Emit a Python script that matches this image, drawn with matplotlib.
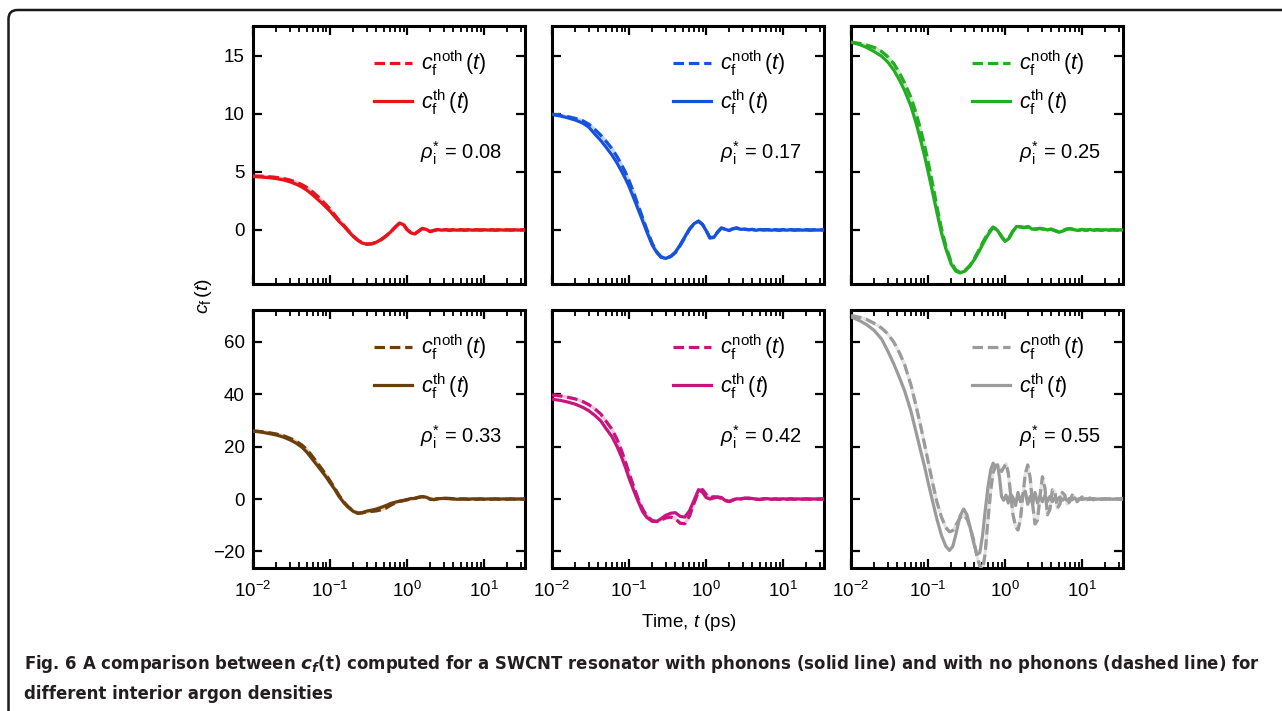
import matplotlib
matplotlib.use('Agg')
import matplotlib.pyplot as plt
from matplotlib.lines import Line2D
from matplotlib.patches import FancyBboxPatch
from matplotlib.ticker import LogLocator, NullFormatter

plt.rcParams['font.family'] = ['Liberation Sans', 'DejaVu Sans']
plt.rcParams['mathtext.fontset'] = 'custom'
plt.rcParams['mathtext.rm'] = 'Liberation Sans'
plt.rcParams['mathtext.it'] = 'Liberation Sans:italic'
plt.rcParams['mathtext.bf'] = 'Liberation Sans:bold'
plt.rcParams['mathtext.bfit'] = 'DejaVu Sans:italic:bold'

# ===== DATA =====
# time grid (ps) shared by the first five densities
T_GRID = [0.010, 0.013, 0.016, 0.020, 0.025, 0.030, 0.036, 0.043, 0.050, 0.060,
          0.070, 0.080, 0.090, 0.100, 0.115, 0.130, 0.150, 0.170, 0.200, 0.230,
          0.260, 0.300, 0.350, 0.400, 0.460, 0.530, 0.610, 0.700, 0.800, 0.900,
          1.00, 1.12, 1.26, 1.41, 1.58, 1.78, 2.00, 2.24, 2.51, 2.82,
          3.16, 3.55, 3.98, 4.47, 5.01, 5.62, 6.31, 7.08, 7.94, 8.91,
          10.0, 11.2, 12.6, 14.1, 15.8, 17.8, 20.0, 22.4, 25.1, 28.2,
          31.6, 34.0]

# rho = 0.08
red_th = [4.60, 4.55, 4.50, 4.42, 4.30, 4.15, 3.95, 3.70, 3.42, 3.00,
          2.60, 2.25, 1.92, 1.62, 1.15, 0.75, 0.35, -0.05, -0.55, -0.90,
          -1.12, -1.23, -1.18, -1.05, -0.82, -0.52, -0.18, 0.25, 0.60, 0.45,
          0.02, -0.25, -0.35, -0.12, 0.12, 0.05, -0.15, -0.05, 0.04, -0.02,
          0.03, -0.02, 0.01, -0.02, 0.02, -0.01, 0.02, -0.02, 0.01, -0.01,
          0.02, -0.01, 0.01, -0.02, 0.01, -0.01, 0.01, -0.01, 0.01, -0.01,
          0.01, 0.00]
red_noth = [4.65, 4.62, 4.58, 4.52, 4.42, 4.30, 4.12, 3.90, 3.65, 3.25,
            2.85, 2.48, 2.12, 1.80, 1.30, 0.85, 0.42, 0.00, -0.52, -0.88,
            -1.10, -1.22, -1.19, -1.07, -0.85, -0.55, -0.20, 0.22, 0.58, 0.48,
            0.05, -0.22, -0.33, -0.10, 0.14, 0.03, -0.13, -0.03, 0.03, -0.01,
            0.02, -0.03, 0.02, -0.01, 0.01, -0.02, 0.01, -0.01, 0.02, -0.01,
            0.01, -0.02, 0.01, -0.01, 0.01, -0.01, 0.01, -0.01, 0.01, -0.01,
            0.00, 0.00]

# rho = 0.17
blue_th = [9.95, 9.80, 9.65, 9.46, 9.20, 8.85, 8.25, 7.70, 7.15, 6.45,
           5.75, 5.05, 4.40, 3.75, 2.75, 1.85, 0.80, -0.15, -1.30, -1.95,
           -2.35, -2.45, -2.25, -1.90, -1.30, -0.60, 0.10, 0.55, 0.77, 0.45,
           -0.05, -0.70, -0.65, -0.20, 0.18, 0.05, -0.05, 0.12, 0.18, 0.05,
           0.08, 0.02, 0.05, -0.03, 0.04, 0.00, 0.03, -0.02, 0.02, -0.03,
           0.02, -0.02, 0.03, -0.01, 0.02, -0.02, 0.01, -0.02, 0.01, -0.01,
           0.01, 0.00]
blue_noth = [9.95, 9.85, 9.75, 9.60, 9.40, 9.10, 8.65, 8.15, 7.65, 7.00,
             6.30, 5.60, 4.95, 4.25, 3.20, 2.20, 1.05, 0.05, -1.15, -1.90,
             -2.30, -2.45, -2.28, -1.95, -1.35, -0.65, 0.05, 0.52, 0.75, 0.48,
             0.00, -0.65, -0.62, -0.18, 0.15, 0.08, -0.02, 0.10, 0.15, 0.06,
             0.05, 0.03, 0.04, -0.02, 0.03, 0.01, 0.02, -0.03, 0.02, -0.02,
             0.03, -0.01, 0.02, -0.02, 0.01, -0.01, 0.02, -0.01, 0.01, -0.01,
             0.00, 0.00]

# rho = 0.25
green_th = [16.15, 15.95, 15.70, 15.35, 14.95, 14.45, 13.75, 12.85, 11.95, 10.65,
            9.20, 7.75, 6.40, 5.05, 3.20, 1.55, -0.30, -1.60, -2.95, -3.55,
            -3.70, -3.55, -3.10, -2.55, -1.85, -1.05, -0.35, 0.22, -0.05, -0.60,
            -0.98, -0.75, -0.15, 0.30, 0.28, 0.20, 0.30, 0.08, 0.05, 0.15,
            0.10, 0.00, 0.08, -0.05, -0.20, -0.10, 0.05, 0.12, 0.02, -0.05,
            0.05, -0.03, 0.04, -0.02, 0.03, -0.03, 0.02, -0.02, 0.02, -0.01,
            0.01, 0.00]
green_noth = [16.15, 16.05, 15.90, 15.70, 15.35, 14.90, 14.30, 13.45, 12.60, 11.40,
              10.05, 8.65, 7.30, 5.90, 3.90, 2.05, 0.05, -1.35, -2.80, -3.45,
              -3.65, -3.50, -3.05, -2.45, -1.70, -0.90, -0.20, 0.25, 0.00, -0.55,
              -0.95, -0.70, -0.10, 0.28, 0.25, 0.22, 0.25, 0.05, 0.10, 0.12,
              0.06, 0.03, 0.05, -0.08, -0.15, -0.05, 0.08, 0.10, 0.00, -0.03,
              0.04, -0.02, 0.03, -0.03, 0.02, -0.02, 0.03, -0.01, 0.01, -0.01,
              0.00, 0.00]

# rho = 0.33
brown_th = [25.90, 25.50, 25.00, 24.45, 23.60, 22.60, 21.40, 19.80, 17.90, 14.90,
            12.40, 10.20, 8.20, 6.20, 3.70, 1.10, -1.30, -3.00, -4.70, -5.45,
            -5.20, -4.60, -4.20, -3.80, -3.20, -2.50, -1.70, -1.20, -0.80, -0.50,
            -0.20, 0.20, 0.20, 0.60, 0.90, 0.70, 0.00, -0.20, 0.10, 0.20,
            0.30, 0.25, 0.10, -0.10, 0.00, 0.05, -0.10, 0.08, -0.05, 0.05,
            -0.06, 0.04, -0.05, 0.05, -0.04, 0.04, -0.03, 0.03, -0.03, 0.02,
            -0.02, 0.00]
brown_noth = [26.00, 25.70, 25.30, 24.80, 24.10, 23.20, 22.10, 20.60, 18.90, 16.00,
              13.40, 11.10, 9.00, 6.90, 4.20, 1.50, -1.00, -2.80, -4.50, -5.40,
              -5.30, -4.90, -4.70, -4.50, -4.10, -3.50, -2.40, -1.50, -0.90, -0.60,
              -0.30, 0.00, 0.30, 0.70, 0.95, 0.60, -0.10, -0.20, 0.15, 0.25,
              0.20, 0.15, 0.05, -0.10, 0.05, 0.00, -0.08, 0.06, -0.05, 0.04,
              -0.05, 0.05, -0.04, 0.04, -0.03, 0.03, -0.03, 0.02, -0.02, 0.02,
              -0.01, 0.00]

# rho = 0.42
mag_th = [38.10, 37.60, 37.00, 36.20, 35.00, 33.70, 31.90, 29.80, 27.00, 23.80,
          20.00, 16.00, 12.00, 8.00, 3.30, -0.60, -4.80, -7.00, -8.50, -8.50,
          -7.50, -6.20, -5.40, -5.20, -6.60, -6.90, -4.50, -0.40, 3.60, 2.60,
          0.60, 0.00, 0.40, 0.80, 0.60, -0.60, -1.00, -0.40, 0.10, 0.00,
          0.30, 0.40, 0.20, 0.00, -0.20, 0.10, 0.15, -0.10, 0.05, -0.10,
          0.10, -0.05, 0.08, -0.06, 0.05, -0.05, 0.04, -0.03, 0.03, -0.02,
          0.02, 0.00]
mag_noth = [39.70, 39.30, 38.80, 38.20, 37.20, 36.00, 34.40, 32.40, 29.80, 26.60,
            22.70, 18.40, 14.10, 9.90, 4.70, 0.40, -3.80, -6.40, -8.20, -8.60,
            -8.00, -7.20, -6.90, -7.50, -9.20, -9.40, -6.50, -1.50, 3.00, 3.60,
            1.80, 0.50, 0.90, 0.70, 0.20, -0.50, -0.90, -0.30, 0.20, 0.10,
            0.30, 0.20, 0.10, -0.10, -0.15, 0.10, 0.10, -0.08, 0.06, -0.08,
            0.08, -0.05, 0.06, -0.05, 0.04, -0.04, 0.03, -0.03, 0.02, -0.02,
            0.01, 0.00]

# rho = 0.55 needs a finer grid through the ringing
T_GRAY = [0.010, 0.013, 0.016, 0.020, 0.025, 0.030, 0.036, 0.043, 0.050, 0.060,
          0.070, 0.080, 0.090, 0.100, 0.115, 0.130, 0.150, 0.170, 0.190, 0.210,
          0.230, 0.260, 0.290, 0.320, 0.350, 0.390, 0.430, 0.470, 0.510, 0.550,
          0.600, 0.650, 0.700, 0.750, 0.800, 0.850, 0.900, 0.960, 1.03, 1.10,
          1.18, 1.27, 1.37, 1.47, 1.58, 1.70, 1.83, 1.97, 2.12, 2.28,
          2.45, 2.64, 2.84, 3.06, 3.30, 3.55, 3.82, 4.12, 4.43, 4.77,
          5.14, 5.53, 5.96, 6.42, 6.91, 7.44, 8.01, 8.63, 9.29, 10.0,
          11.2, 12.6, 14.1, 15.8, 17.8, 20.0, 22.4, 25.1, 28.2, 31.6,
          34.0]
gray_th = [69.5, 68.0, 66.5, 64.3, 61.0, 56.5, 51.5, 46.0, 41.0, 33.5,
           25.5, 18.5, 12.5, 6.5, -1.0, -7.5, -14.0, -18.0, -19.6, -18.0,
           -13.5, -6.5, -3.8, -6.0, -10.5, -16.5, -21.0, -20.5, -14.0, -5.0,
           4.5, 11.0, 13.7, 12.5, 13.0, 8.0, 1.0, -0.5, 1.5, -1.5,
           2.0, 0.5, -2.5, 2.5, -1.0, 1.5, 3.0, -2.0, 1.0, -2.0,
           2.5, -1.5, 1.0, -1.0, 1.5, -1.0, 1.0, -1.0, 0.5, -0.5,
           0.8, -0.5, 0.5, -0.5, 0.3, -0.3, 0.4, -0.3, 0.2, -0.2,
           0.2, -0.2, 0.2, -0.1, 0.1, -0.1, 0.1, -0.1, 0.1, -0.1,
           0.0]
gray_noth = [70.0, 69.3, 68.5, 67.0, 65.2, 63.0, 59.8, 55.5, 51.0, 43.5,
             35.5, 28.0, 21.0, 14.5, 6.0, -1.0, -7.0, -10.8, -12.5, -12.0,
             -10.0, -7.2, -6.1, -7.5, -10.5, -15.5, -21.5, -25.5, -27.0, -21.0,
             -8.0, 3.0, 10.0, 12.5, 13.0, 12.0, 10.5, 12.0, 13.5, 10.0,
             2.0, -6.0, -10.5, -11.8, -8.0, 1.0, 9.5, 13.0, 8.0, -2.0,
             -9.5, -8.0, 1.0, 8.5, 4.0, -6.0, -4.0, 3.5, 3.0, -3.5,
             -2.0, 2.5, 1.5, -2.0, -1.0, 1.5, 0.8, -1.0, 0.0, 0.8,
             -0.5, 0.4, -0.3, 0.3, -0.2, 0.2, -0.1, 0.1, -0.1, 0.1,
             0.0]

RHO = ['0.08', '0.17', '0.25', '0.33', '0.42', '0.55']
COLORS = ['#e8141c', '#1652dc', '#22ad22', '#6b3f0c', '#c8157e', '#9b9b9b']
PALE = ['#f6c2c2', '#c4d3f5', '#c9eac9', '#e2d3c0', '#f1c3de', '#e3e3e3']

panels = [
    (T_GRID, red_th, red_noth),
    (T_GRID, blue_th, blue_noth),
    (T_GRID, green_th, green_noth),
    (T_GRID, brown_th, brown_noth),
    (T_GRID, mag_th, mag_noth),
    (T_GRAY, gray_th, gray_noth),
]

# ===== FIGURE =====
W, H = 1282, 711
fig = plt.figure(figsize=(W / 100, H / 100), dpi=100)

lefts = [253, 552, 851]
tops = [26, 310]
pw, ph = 272, 258
ylims = [(-4.65, 17.55), (-26.3, 72.1)]
yticks = [[0, 5, 10, 15], [-20, 0, 20, 40, 60]]
DASH = (0, (3.3, 1.5))
LW = 2.3

for k, (t, th, noth) in enumerate(panels):
    r, c = divmod(k, 3)
    ax = fig.add_axes([lefts[c] / W, 1 - (tops[r] + ph) / H, pw / W, ph / H])
    col = COLORS[k]
    ax.plot(t, noth, color=PALE[k], lw=LW, zorder=2)
    ax.plot(t, th, color=col, lw=LW, zorder=3)
    ax.plot(t, noth, color=col, lw=LW, ls=DASH, zorder=4)

    ax.set_xscale('log')
    ax.set_xlim(0.01, 34)
    ax.set_ylim(*ylims[r])
    ax.set_yticks(yticks[r])
    ax.xaxis.set_major_locator(LogLocator(base=10, numticks=10))
    ax.xaxis.set_minor_locator(LogLocator(base=10, subs=range(2, 10), numticks=20))
    ax.xaxis.set_minor_formatter(NullFormatter())
    ax.tick_params(which='both', direction='in', top=True, right=True)
    ax.tick_params(which='major', length=6.5, width=1.6, labelsize=13.5, pad=6)
    ax.tick_params(axis='x', which='major', pad=9)
    ax.tick_params(which='minor', length=4, width=1.3)
    if r == 0:
        ax.tick_params(labelbottom=False)
    if c > 0:
        ax.tick_params(labelleft=False)
    for s in ax.spines.values():
        s.set_linewidth(2.2)

    handles = [Line2D([], [], color=col, lw=LW, ls=DASH),
               Line2D([], [], color=col, lw=LW)]
    labels = [r'$c_{\mathrm{f}}^{\mathrm{noth}}\,(t)$', r'$c_{\mathrm{f}}^{\mathrm{th}}\,(t)$']
    ax.legend(handles, labels, loc='upper left', bbox_to_anchor=(0.445, 0.913),
              frameon=False, fontsize=15.5, handlelength=1.75, handletextpad=0.42,
              labelspacing=0.42, borderpad=0, borderaxespad=0)
    ax.text(0.918, 0.505, r'$\rho_{\mathrm{i}}^{*}$ = ' + RHO[k], transform=ax.transAxes,
            ha='right', va='center', fontsize=14.5)

fig.text(0.159, 0.584, r'$c_{\mathrm{f}}\,(t)$', rotation=90, ha='center', va='center', fontsize=14)
fig.text(0.537, 0.124, r'Time, $t$ (ps)', ha='center', va='center', fontsize=13.5)

# caption lines, scaled so the first line spans the text block width
cap_kw = dict(family='DejaVu Sans', fontstretch='condensed', fontweight='bold',
              color='#231f20', va='center')
cap1 = fig.text(24 / W, 1 - 664 / H,
                r'Fig. 6 A comparison between $\mathbfit{c}_{\mathbfit{f}}$(t) computed for a SWCNT resonator '
                r'with phonons (solid line) and with no phonons (dashed line) for',
                fontsize=14, **cap_kw)
cap2 = fig.text(24 / W, 1 - 694 / H, 'different interior argon densities', fontsize=14, **cap_kw)
fig.canvas.draw()
cap_w = cap1.get_window_extent().width
cap_size = 14 * 1242 / cap_w
cap1.set_fontsize(cap_size)
cap2.set_fontsize(cap_size)

frame = FancyBboxPatch((0.085, -0.5), 14.0, 7.51, boxstyle='round,pad=0,rounding_size=0.09',
                       transform=fig.dpi_scale_trans, fill=False, lw=1.8, ec='#1a1a1a', clip_on=False)
fig.add_artist(frame)

plt.savefig('out.png', dpi=100)
plt.close()
